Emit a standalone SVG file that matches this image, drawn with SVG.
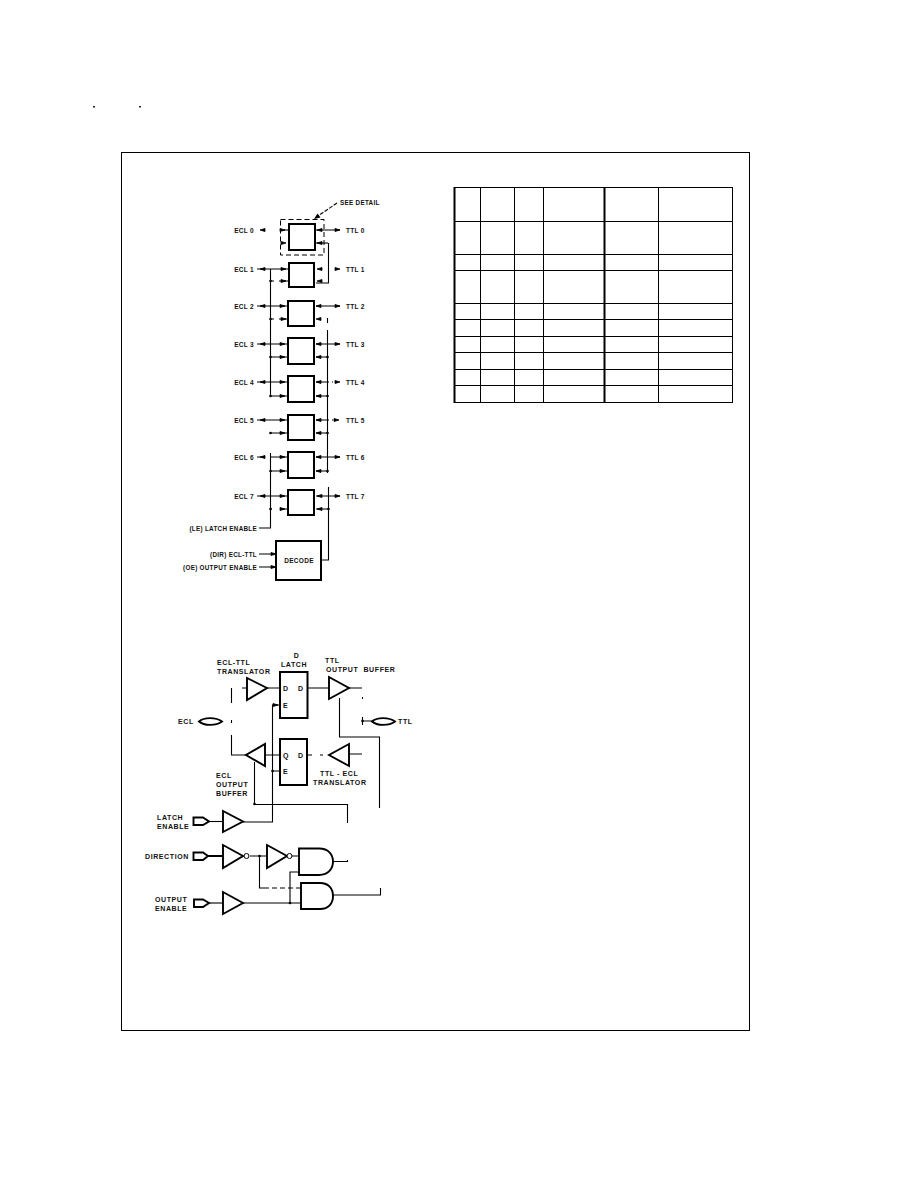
<svg xmlns="http://www.w3.org/2000/svg" xmlns:xlink="http://www.w3.org/1999/xlink" width="918" height="1188" viewBox="0 0 918 1188">
<style>
text{font-family:"Liberation Sans",Arial,sans-serif;font-size:6.5px;font-weight:bold;fill:#111;letter-spacing:.3px}
.e{text-anchor:end}
.m{text-anchor:middle}
.d{font-size:7px;letter-spacing:.6px}
.s{font-size:6.3px;letter-spacing:.3px}
.box{fill:#fff;stroke:#000;stroke-width:2}
.sym{fill:#fff;stroke:#000;stroke-width:1.9;stroke-linejoin:miter}
.bub{fill:#fff;stroke:#000;stroke-width:1}
.t{stroke:#000;stroke-width:1}
.T{stroke:#000;stroke-width:2}
.w{fill:none;stroke:#000;stroke-width:1.1}
.dash{fill:none;stroke:#000;stroke-width:1;stroke-dasharray:5 3}
</style>
<defs>
<path id="r" d="M-3-1.5L2 0L-3 1.5Z" fill="#000" stroke="#000" stroke-width=".8"/>
<path id="l" d="M3-1.5L-2 0L3 1.5Z" fill="#000" stroke="#000" stroke-width=".8"/>
<circle id="j" r="1.3" fill="#000"/>
</defs>
<rect width="918" height="1188" fill="#fff"/>
<g id="page-marks"><rect x="93" y="106" width="2" height="1.5" fill="#222"/><rect x="139" y="106" width="2" height="1.5" fill="#222"/></g>
<rect id="frame" x="121.500" y="152.500" width="628" height="878" fill="none" stroke="#000" stroke-width="1"/>

<g id="truth-table">
<path class="t" d="M454 187.500H733M454 221.500H733M454 254.500H733M454 270.500H733M454 303.500H733M454 319.500H733M454 336.500H733M454 352.500H733M454 369.500H733M454 385.500H733M454 402.500H733M480.500 187V403M514.500 187V403M543.500 187V403M658.500 187V403M732.500 187V403" fill="none"/>
<path class="T" d="M454.500 187V403M604.500 187V403" fill="none"/>
</g>

<g id="connectors">
<path class="w" d="M270.500 269V396M270.500 453V528H259"/>
<path class="w" d="M327.500 330V473M328.500 243V283H316M328.500 487V533M328.500 533V560H321M327.500 318V323"/>
<path class="w" d="M316 243H328"/>
<path class="w" d="M257 269H288M257 306H288M257 344H288M257 382H288M257 420H288M257 457H263M270 457H288M257 496H288"/>
<path class="w" d="M270 281H274M279 281H288M270 319H274M279 319H288M270 357H288M270 396H288M270 433H288M270 471H288M270 509H272M282 509H288"/>
<path class="w" d="M316 230H340M316 306H340M316 344H340M316 382H329M332 382H333M316 420H329M332 420H333M316 457H340M316 496H340"/>
<path class="w" d="M316 357H327M316 396H327M316 433H327M316 471H327M316 509H328"/>
<path class="dash" d="M303 243H288"/>
<path class="w" d="M281 230H288"/>
<path class="w" stroke-dasharray="4 1.500" d="M337 203L318 216"/>
<path class="w" d="M259 554H276M259 567H276"/>

<path class="w" d="M242 688H247M231.500 688V703M231.500 720V723M231.500 735V755H247"/>
<path class="w" d="M267 688H280M308 688H329M349 688H362M362.500 697V699M362.500 717V725M362 721H372"/>
<path class="w" d="M265 755H280M307 755H312M320 755H323M349 754H362"/>
<path class="w" d="M280 705H272.500V822H243M272.500 771H280"/>
<path class="w" d="M339.500 698V737H379.500V808"/>
<path class="w" d="M254.500 762V804.500H347.500V823"/>
<path class="w" d="M333 861.500H347.500V860"/>
<path class="w" d="M333 895H380.500V888"/>
<path class="w" d="M209 821.500H223"/>
<path class="T" d="M208 856H223" fill="none"/>
<path class="w" d="M209 903H223"/>
<path class="w" d="M250 856H267M290 856H299"/>
<path class="w" d="M259.500 856V888H264"/>
<path class="dash" d="M264 888H301"/>
<path class="w" d="M299 872H290V903"/>
<path class="w" d="M243 903H301"/>
</g>

<g id="arrowheads">
<use xlink:href="#l" x="262" y="230"/><use xlink:href="#r" x="283" y="230"/><use xlink:href="#r" x="284" y="243"/><use xlink:href="#l" x="319" y="230"/><use xlink:href="#l" x="319" y="243"/><use xlink:href="#r" x="338" y="230"/>
<use xlink:href="#l" x="262" y="269"/><use xlink:href="#r" x="284" y="269"/><use xlink:href="#r" x="284" y="281"/><use xlink:href="#l" x="319" y="269"/><use xlink:href="#l" x="319" y="281"/><use xlink:href="#r" x="338" y="269"/>
<use xlink:href="#l" x="262" y="306"/><use xlink:href="#r" x="283" y="306"/><use xlink:href="#r" x="284" y="319"/><use xlink:href="#l" x="318" y="306"/><use xlink:href="#l" x="318" y="319"/><use xlink:href="#r" x="338" y="306"/>
<use xlink:href="#l" x="262" y="344"/><use xlink:href="#r" x="283" y="344"/><use xlink:href="#r" x="283" y="357"/><use xlink:href="#l" x="318" y="344"/><use xlink:href="#l" x="318" y="357"/><use xlink:href="#r" x="338" y="344"/>
<use xlink:href="#l" x="262" y="382"/><use xlink:href="#r" x="283" y="382"/><use xlink:href="#r" x="283" y="396"/><use xlink:href="#l" x="318" y="382"/><use xlink:href="#l" x="318" y="396"/><use xlink:href="#r" x="338" y="382"/>
<use xlink:href="#l" x="262" y="420"/><use xlink:href="#r" x="283" y="420"/><use xlink:href="#r" x="283" y="433"/><use xlink:href="#l" x="318" y="420"/><use xlink:href="#l" x="318" y="433"/><use xlink:href="#r" x="337" y="420"/>
<use xlink:href="#l" x="262" y="457"/><use xlink:href="#r" x="283" y="457"/><use xlink:href="#r" x="283" y="471"/><use xlink:href="#l" x="318" y="457"/><use xlink:href="#l" x="318" y="471"/><use xlink:href="#r" x="338" y="457"/>
<use xlink:href="#l" x="262" y="496"/><use xlink:href="#r" x="283" y="496"/><use xlink:href="#r" x="283" y="509"/><use xlink:href="#l" x="319" y="496"/><use xlink:href="#l" x="319" y="509"/><use xlink:href="#r" x="338" y="496"/>
<use xlink:href="#r" x="274" y="554"/><use xlink:href="#r" x="274" y="567"/>
<use xlink:href="#r" x="276" y="705"/>
<path d="M314 219L317.500 213.500L320.500 217.500Z" fill="#000"/>
<use xlink:href="#j" x="270.500" y="281"/><use xlink:href="#j" x="270.500" y="319"/><use xlink:href="#j" x="270.500" y="357"/><use xlink:href="#j" x="270.500" y="396"/><use xlink:href="#j" x="270.500" y="433"/><use xlink:href="#j" x="270.500" y="471"/><use xlink:href="#j" x="270.500" y="509"/>
<use xlink:href="#j" x="327.500" y="357"/><use xlink:href="#j" x="327.500" y="396"/><use xlink:href="#j" x="327.500" y="433"/><use xlink:href="#j" x="327.500" y="471"/><use xlink:href="#j" x="328.500" y="509"/>
<use xlink:href="#j" x="272.500" y="771"/><use xlink:href="#j" x="259.500" y="856"/><use xlink:href="#j" x="290" y="903"/><use xlink:href="#j" x="362.500" y="721"/><use xlink:href="#j" x="254.500" y="804"/>
</g>

<g id="see-detail"><rect class="dash" x="280.500" y="219.500" width="43.500" height="35.500"/><text x="340" y="205" class="s">SEE DETAIL</text></g>
<g id="ch0"><rect class="box" x="289" y="224" width="26" height="26"/><text x="254" y="232.500" class="e">ECL 0</text><text x="346" y="232.500">TTL 0</text></g>
<g id="ch1"><rect class="box" x="289" y="263" width="25" height="24"/><text x="254" y="271.500" class="e">ECL 1</text><text x="346" y="271.500">TTL 1</text></g>
<g id="ch2"><rect class="box" x="288" y="301" width="26" height="25"/><text x="254" y="308.500" class="e">ECL 2</text><text x="346" y="308.500">TTL 2</text></g>
<g id="ch3"><rect class="box" x="288" y="338" width="26" height="26"/><text x="254" y="346.500" class="e">ECL 3</text><text x="346" y="346.500">TTL 3</text></g>
<g id="ch4"><rect class="box" x="288" y="376" width="26" height="26"/><text x="254" y="384.500" class="e">ECL 4</text><text x="346" y="384.500">TTL 4</text></g>
<g id="ch5"><rect class="box" x="288" y="415" width="26" height="25"/><text x="254" y="422.500" class="e">ECL 5</text><text x="346" y="422.500">TTL 5</text></g>
<g id="ch6"><rect class="box" x="288" y="452" width="26" height="26"/><text x="254" y="459.500" class="e">ECL 6</text><text x="346" y="459.500">TTL 6</text></g>
<g id="ch7"><rect class="box" x="288" y="490" width="26" height="25"/><text x="254" y="498.500" class="e">ECL 7</text><text x="346" y="498.500">TTL 7</text></g>
<g id="latch-enable-label"><text x="257" y="531" class="e s">(LE) LATCH ENABLE</text></g>
<g id="decode"><rect class="box" x="276" y="541" width="45" height="39"/><text x="299" y="562.500" class="m">DECODE</text><text x="257" y="556.500" class="e s">(DIR) ECL-TTL</text><text x="257" y="570" class="e s">(OE) OUTPUT ENABLE</text></g>

<g id="ecl-ttl-translator"><path class="sym" d="M247 678V700L267 688Z"/><text x="217" y="665" class="d">ECL-TTL</text><text x="217" y="674" class="d">TRANSLATOR</text></g>
<g id="d-latch"><rect class="box" x="280" y="672" width="27.500" height="46"/><text x="296.500" y="658" class="m d">D</text><text x="294" y="667" class="m d">LATCH</text><text x="283" y="691" class="d">D</text><text x="298" y="691" class="d">D</text><text x="283" y="708" class="d">E</text></g>
<g id="ttl-output-buffer"><path class="sym" d="M329 677V699L349 688Z"/><text x="325" y="663" class="d">TTL</text><text x="326" y="672" class="d" xml:space="preserve">OUTPUT  BUFFER</text></g>
<g id="ecl-pad"><path class="sym" d="M199 721.500C204 717 216 717 222 721.500C216 726 204 726 199 721.500Z"/><text x="178" y="724" class="d">ECL</text></g>
<g id="ttl-pad"><path class="sym" d="M372 721.500C377 717 389 717 395 721.500C389 726 377 726 372 721.500Z"/><text x="398" y="724" class="d">TTL</text></g>
<g id="ecl-output-buffer"><path class="sym" d="M265 744V766L246 755Z"/><text x="216" y="778" class="d">ECL</text><text x="216" y="787" class="d">OUTPUT</text><text x="216" y="796" class="d">BUFFER</text></g>
<g id="q-latch"><rect class="box" x="280" y="739" width="27" height="46"/><text x="283" y="758" class="d">Q</text><text x="298" y="758" class="d">D</text><text x="283" y="774" class="d">E</text></g>
<g id="ttl-ecl-translator"><path class="sym" d="M349 744V766L329 755Z"/><text x="320" y="776" class="d">TTL - ECL</text><text x="313" y="785" class="d">TRANSLATOR</text></g>

<g id="latch-enable"><path class="sym" d="M193.500 817.500H203L209 821.500L203 825H193.500Z"/><path class="sym" d="M223 811V832L243 821.500Z"/><text x="157" y="820" class="d">LATCH</text><text x="157" y="829" class="d">ENABLE</text></g>
<g id="direction"><path class="sym" stroke-width="2" d="M193.500 852.500H203L208 856L203 860H193.500Z"/><path class="sym" d="M223 845V868L243 856Z"/><circle class="bub" cx="246.500" cy="856" r="2.500"/><text x="145" y="859" class="d">DIRECTION</text></g>
<g id="inverter"><path class="sym" d="M267 845V868L287 856Z"/><circle class="bub" cx="289.500" cy="856" r="2.500"/></g>
<g id="output-enable"><path class="sym" d="M194 899.500H203L209 903L203 907H194Z"/><path class="sym" d="M223 892V914L243 903Z"/><text x="155" y="902" class="d">OUTPUT</text><text x="155" y="911" class="d">ENABLE</text></g>
<g id="and-1"><path class="sym" d="M299 848.500H319C329 848.500 333 855 333 861.500C333 868 329 875 319 875H299Z"/></g>
<g id="and-2"><path class="sym" d="M301 883H320C329 883 333 889 333 896C333 903 329 909 320 909H301Z"/></g>
</svg>
